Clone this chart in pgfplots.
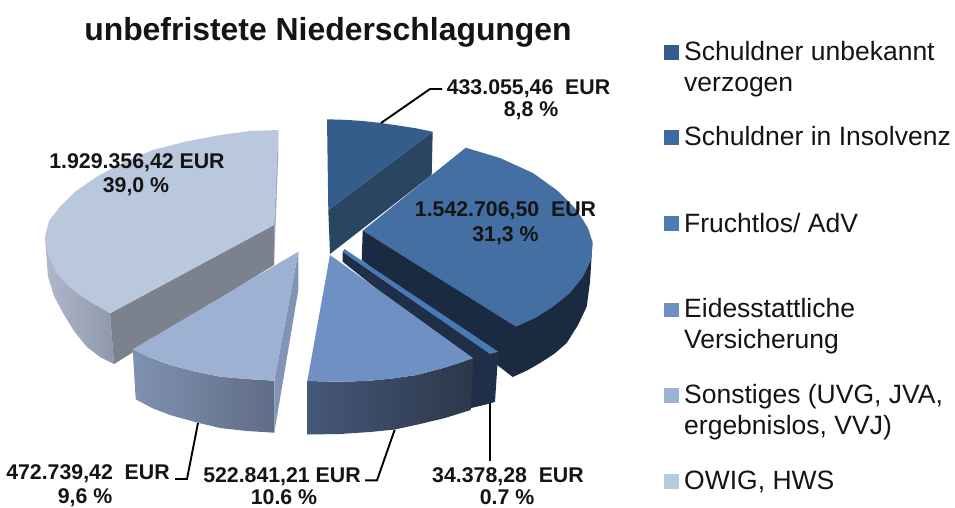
\documentclass[border=0pt]{standalone}
\usepackage{pgfplots}
\pgfplotsset{compat=1.18}
\usepackage{fontspec}
\setmainfont{Liberation Sans}
\definecolor{t1}{HTML}{355D8C}\definecolor{w1}{HTML}{2A4562}
\definecolor{t2}{HTML}{436FA3}\definecolor{w2}{HTML}{1A2A40}
\definecolor{t3}{HTML}{4A7AB5}\definecolor{w3}{HTML}{1F2F47}
\definecolor{t4}{HTML}{6F90C3}\definecolor{w4a}{HTML}{45587A}\definecolor{w4b}{HTML}{2C374A}
\definecolor{t5}{HTML}{9DB1D2}\definecolor{w5}{HTML}{8294B5}\definecolor{w5a}{HTML}{8092B2}\definecolor{w5b}{HTML}{5F6C85}
\definecolor{t6}{HTML}{BAC8DE}\definecolor{w6}{HTML}{7B818D}\definecolor{w6a}{HTML}{B0B7CA}\definecolor{w6b}{HTML}{8F98AB}\definecolor{s6}{HTML}{9EA9BF}
\definecolor{l2}{HTML}{3F6A9E}\definecolor{l3}{HTML}{4A7CB8}
\newcommand{\lab}[3]{\node[anchor=base,font=\fontsize{21.3}{24}\selectfont\bfseries,inner sep=0pt,text=black!92] at (axis cs:#1,#2) {#3};}
\newcommand{\leg}[2]{\node[anchor=base west,font=\fontsize{26.5}{29}\selectfont,inner sep=0pt,text=black!92] at (axis cs:684,#1) {#2};}
\begin{document}
\begin{tikzpicture}
\path[use as bounding box] (0,0) rectangle (955pt,507pt);
\begin{axis}[scale only axis,anchor=south west,at={(0,0)},width=955pt,height=507pt,xmin=0,xmax=955,ymin=0,ymax=507,y dir=reverse,hide axis,clip=false]
% slice 1
\addplot[fill=w1,draw=none,mark=none,forget plot] coordinates {(432.7,131.7)(431.7,175)(330,254)(328.3,210)(432.7,131.7)};
\addplot[fill=t1,draw=none,mark=none,forget plot] coordinates {(327,119.3)(345,119.8)(363,121)(381,123)(398,125.5)(416,128.3)(432.7,131.7)(328.3,210)(327,119.3)};
% slice 6
\addplot[left color=w6a,right color=w6b,draw=none,mark=none,forget plot] coordinates {(45,236.7)(48,276.7)(54,296)(63,313)(74,331)(86.7,346.7)(100,357)(114,364)(110,313.3)(45,236.7)};
\addplot[fill=w6,draw=none,mark=none,forget plot] coordinates {(274,225)(110,313.3)(114,364)(274,265)(274,225)};
\addplot[fill=s6,draw=none,mark=none,forget plot] coordinates {(278.3,130)(278.3,155)(274,265)(274,225)(278.3,130)};
\addplot[fill=t6,draw=none,mark=none,forget plot] coordinates {(278.3,130)(250,131)(220,135)(186,141.5)(153,150)(124,162)(96.7,176.7)(76,191)(60,206.7)(49,221)(45,236.7)(48,255)(56.7,273)(66,284)(76.7,293)(92,303)(110,313.3)(274,225)(278.3,130)};
% slice 5
\addplot[left color=w5a,right color=w5b,draw=none,mark=none,forget plot] coordinates {(132.7,349.3)(135.7,399.3)(152,408)(170,415)(195,422)(220,428)(247,431)(274.3,432.7)(274.3,380.7)(247,379)(220,376.7)(195,371.5)(170,365)(150,357.5)(132.7,349.3)};
\addplot[fill=w5,draw=none,mark=none,forget plot] coordinates {(298.3,251.7)(298.3,290)(274.3,432.7)(274.3,380.7)(298.3,251.7)};
\addplot[fill=t5,draw=none,mark=none,forget plot] coordinates {(298.3,251.7)(132.7,349.3)(150,357.5)(170,365)(195,371.5)(220,376.7)(247,379)(274.3,380.7)(298.3,251.7)};
% slice 2
\addplot[fill=w2,draw=none,mark=none,forget plot] coordinates {(362.7,230.7)(361.7,260)(512.7,377)(527,370.5)(540,363)(554,354)(566.7,343)(578,325)(586.7,306.7)(590,282)(592,250)(592,240)(362.7,230.7)};
\addplot[fill=t2,draw=none,mark=none,forget plot] coordinates {(362.7,230.7)(465.7,147.7)(500,158)(533,173)(558,191)(576.7,210)(588,228)(592.7,243)(591,260)(583,276.7)(570,293)(553,306.7)(535,318)(516,326.7)(362.7,230.7)};
% slice 3
\addplot[fill=w3,draw=none,mark=none,forget plot] coordinates {(342.7,251.7)(342.7,261.7)(465,360)(467,409)(490,403.5)(495,401.7)(498.3,351.7)(490,354)(342.7,251.7)};
\addplot[fill=t3,draw=none,mark=none,forget plot] coordinates {(344.3,249)(498.3,351.7)(490,354)(342.7,252)(344.3,249)};
% slice 4
\addplot[left color=w4a,right color=w4b,draw=none,mark=none,forget plot] coordinates {(307,381)(307,434.5)(340,434)(370,432)(395,429.5)(420,424)(445,418)(470.7,410)(473.3,358.3)(445,367.5)(416.7,375)(392,378.5)(366.7,381)(337,381.7)(307,381)};
\addplot[fill=t4,draw=none,mark=none,forget plot] coordinates {(330,255)(307.3,381)(337,381.7)(366.7,381)(392,378.5)(416.7,375)(445,367.5)(473.3,358.3)(330,255)};
% leaders
\addplot[black,line width=1.9pt,mark=none,forget plot] coordinates {(442,89)(430,89)(381,123)};
\addplot[black,line width=1.9pt,mark=none,forget plot] coordinates {(198,423)(187,479)(175,479)};
\addplot[black,line width=1.9pt,mark=none,forget plot] coordinates {(394.6,430)(377,480.3)(365,480.3)};
\addplot[black,line width=1.9pt,mark=none,forget plot] coordinates {(490,403)(490,461)};
% legend keys
\addplot[only marks,mark=square*,mark size=6.8pt,mark options={fill=t1,draw=t1,line width=0.2pt},forget plot] coordinates {(671,52)};
\addplot[only marks,mark=square*,mark size=6.8pt,mark options={fill=l2,draw=l2,line width=0.2pt},forget plot] coordinates {(671,137)};
\addplot[only marks,mark=square*,mark size=6.8pt,mark options={fill=l3,draw=l3,line width=0.2pt},forget plot] coordinates {(671,223)};
\addplot[only marks,mark=square*,mark size=6.8pt,mark options={fill=t4,draw=t4,line width=0.2pt},forget plot] coordinates {(671,309.7)};
\addplot[only marks,mark=square*,mark size=6.8pt,mark options={fill=t5,draw=t5,line width=0.2pt},forget plot] coordinates {(671,395)};
\addplot[only marks,mark=square*,mark size=6.8pt,mark options={fill=t6,draw=t6,line width=0.2pt},forget plot] coordinates {(671,481)};
% texts
\node[anchor=base,font=\fontsize{31.9}{35}\selectfont\bfseries,inner sep=0pt,text=black!92] at (axis cs:328,40) {unbefristete Niederschlagungen};
\leg{60}{Schuldner unbekannt}
\leg{91}{verzogen}
\leg{145}{Schuldner in Insolvenz}
\leg{232}{Fruchtlos/ AdV}
\leg{317}{Eidesstattliche}
\leg{348}{Versicherung}
\leg{403}{Sonstiges (UVG, JVA,}
\leg{434}{ergebnislos, VVJ)}
\leg{489}{OWIG, HWS}
\lab{528.5}{94}{433.055,46\ \ EUR}
\lab{531}{116}{8,8 \%}
\lab{505.5}{216}{1.542.706,50\ \ EUR}
\lab{505.5}{241}{31,3 \%}
\lab{137}{168}{1.929.356,42 EUR}
\lab{136}{192}{39,0 \%}
\lab{88}{479}{472.739,42\ \ EUR}
\lab{85}{503.5}{9,6 \%}
\lab{282}{482}{522.841,21 EUR}
\lab{284}{504}{10.6 \%}
\lab{508}{482}{34.378,28\ \ EUR}
\lab{507}{504}{0.7 \%}
\end{axis}
\end{tikzpicture}
\end{document}
